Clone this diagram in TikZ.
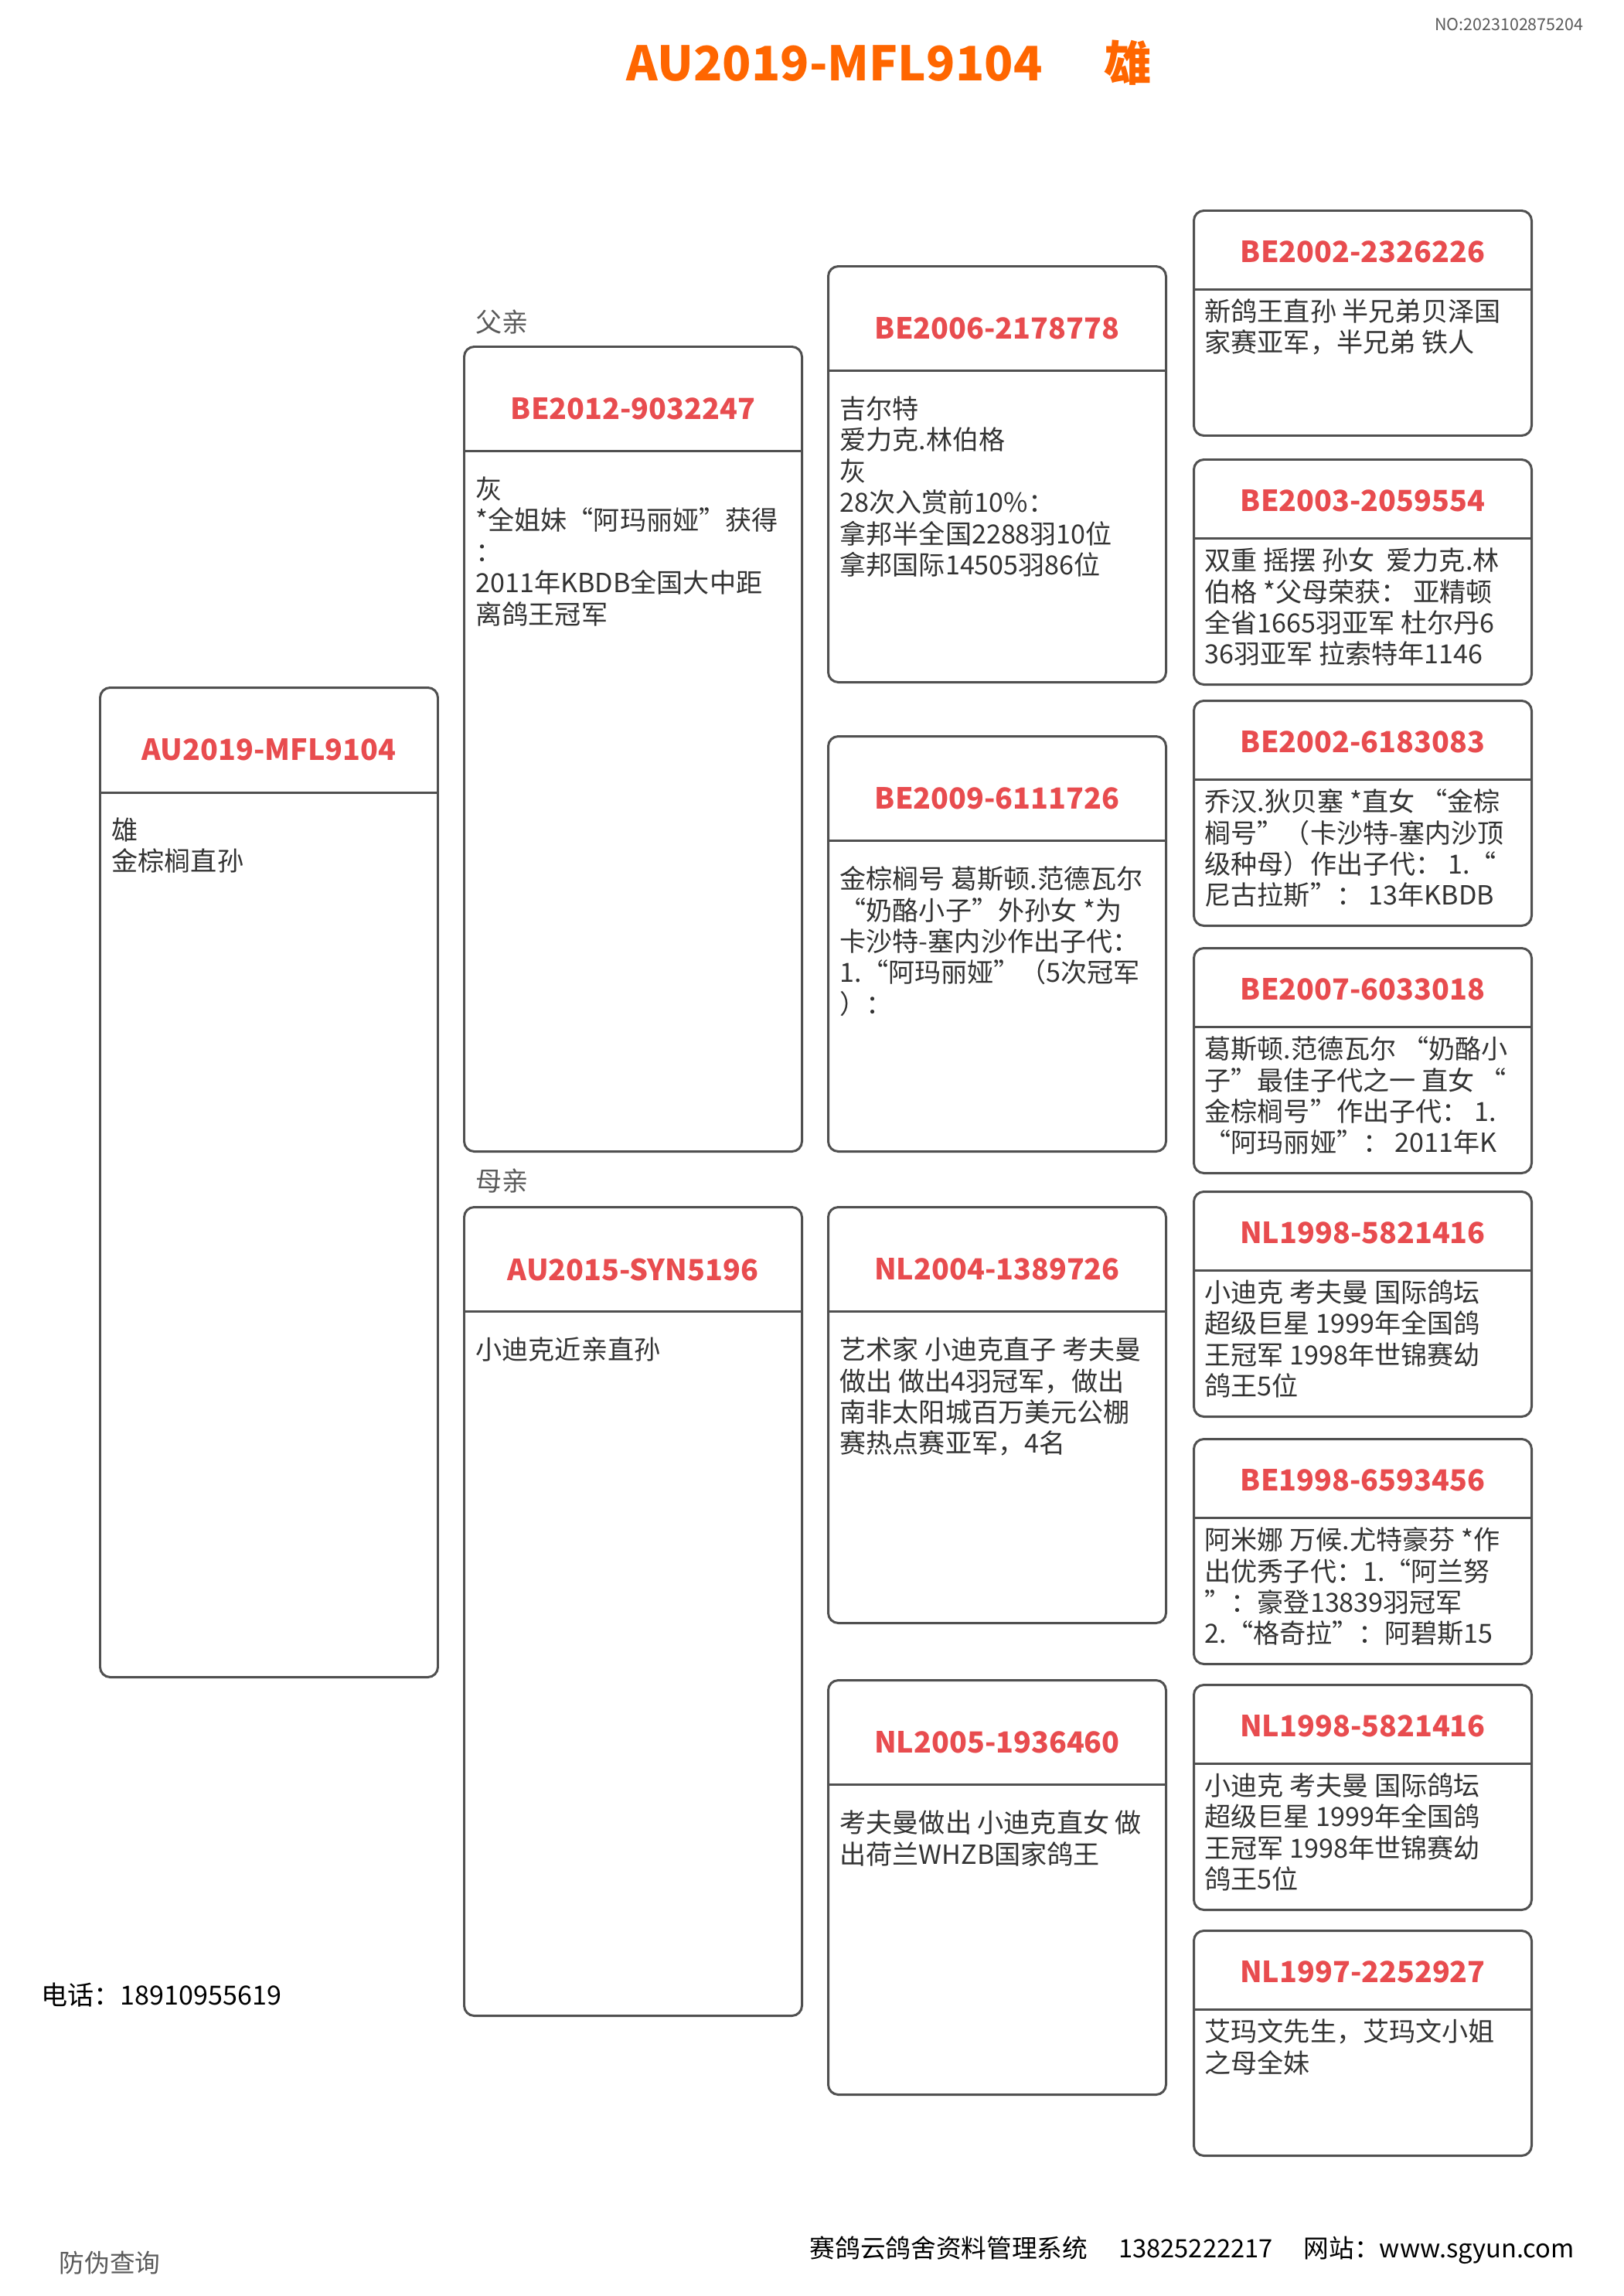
\documentclass[tikz,border=0pt]{standalone}
\usepackage{fontspec}
\setmainfont{Noto Sans CJK SC}
\definecolor{titleorange}{RGB}{255, 102, 0}
\definecolor{ringred}    {RGB}{232, 76, 79}
\definecolor{cardline}   {RGB}{80, 80, 80}
\definecolor{notegray}   {RGB}{51, 51, 51}
\definecolor{labelgray}  {RGB}{90, 90, 90}
\tikzset{
	card/.style={
		rectangle, rounded corners=0.13cm,
		anchor=north west, inner sep=0pt,
		minimum width=4.37cm,
		draw=cardline, line width=0.85pt
	},
	cardrule/.style={
		draw=cardline, line width=0.85pt
	},
	ringno/.style={
		font=\fontsize{10.7}{13}\selectfont\bfseries,
		text=ringred, inner sep=0pt
	},
	notes/.style={
		font=\fontsize{9.7}{11.5}\selectfont,
		text=notegray, align=left,
		anchor=north west, inner sep=0pt
	},
	relation/.style={
		font=\fontsize{9.7}{11.5}\selectfont,
		text=labelgray, anchor=west, inner sep=0pt
	},
	footnote/.style={
		font=\fontsize{9.3}{11}\selectfont,
		anchor=west, inner sep=0pt
	}
}

\begin{document}
\begin{tikzpicture}
	
	\path[use as bounding box, fill=white] (0,0) rectangle (21,-29.7);
	
	%% ═══════════════════════════════
	%%  HEADER
	%% ═══════════════════════════════
	\node[anchor=east, inner sep=0pt, text=labelgray,
	font=\fontsize{6.1}{7}\selectfont] (docno) at (20.49,-0.32) {NO:2023102875204};
	\node[anchor=west, inner sep=0pt, text=titleorange,
	font=\fontsize{17.5}{20}\selectfont\bfseries] (title) at (8.10,-0.81)
	{AU2019-MFL9104\hspace{0.8cm}雄};
	
	%% ═══════════════════════════════
	%%  COLUMN 0 — the bird itself
	%% ═══════════════════════════════
	\node[card, minimum height=12.80cm] (self) at (1.28,-8.88) {};
	\draw[cardrule] ([yshift=-1.37cm]self.north west) -- ([yshift=-1.37cm]self.north east);
	\node[ringno] (self-id) at ([yshift=-0.82cm]self.north) {AU2019-MFL9104};
	\node[notes] (self-txt) at ([xshift=0.16cm, yshift=-1.69cm]self.north west)
	{雄\\金棕榈直孙};
	
	%% ═══════════════════════════════
	%%  COLUMN 1 — sire and dam
	%% ═══════════════════════════════
	\node[relation] (sire-lbl) at (6.15,-4.17) {父亲};
	\node[card, minimum height=10.41cm] (sire) at (5.99,-4.47) {};
	\draw[cardrule] ([yshift=-1.36cm]sire.north west) -- ([yshift=-1.36cm]sire.north east);
	\node[ringno] (sire-id) at ([yshift=-0.82cm]sire.north) {BE2012-9032247};
	\node[notes] (sire-txt) at ([xshift=0.16cm, yshift=-1.69cm]sire.north west)
	{灰\\*全姐妹“阿玛丽娅”获得\\：\\2011年KBDB全国大中距\\离鸽王冠军};
	
	\node[relation] (dam-lbl) at (6.15,-15.28) {母亲};
	\node[card, minimum height=10.46cm] (dam) at (5.99,-15.60) {};
	\draw[cardrule] ([yshift=-1.36cm]dam.north west) -- ([yshift=-1.36cm]dam.north east);
	\node[ringno] (dam-id) at ([yshift=-0.82cm]dam.north) {AU2015-SYN5196};
	\node[notes] (dam-txt) at ([xshift=0.16cm, yshift=-1.69cm]dam.north west)
	{小迪克近亲直孙};
	
	%% ═══════════════════════════════
	%%  COLUMN 2 — grandparents
	%% ═══════════════════════════════
	\node[card, minimum height=5.38cm] (ss) at (10.70,-3.43) {};
	\draw[cardrule] ([yshift=-1.36cm]ss.north west) -- ([yshift=-1.36cm]ss.north east);
	\node[ringno] (ss-id) at ([yshift=-0.82cm]ss.north) {BE2006-2178778};
	\node[notes] (ss-txt) at ([xshift=0.16cm, yshift=-1.69cm]ss.north west)
	{吉尔特\\爱力克.林伯格\\灰\\28次入赏前10\%：\\拿邦半全国2288羽10位\\拿邦国际14505羽86位};
	
	\node[card, minimum height=5.37cm] (sd) at (10.70,-9.51) {};
	\draw[cardrule] ([yshift=-1.36cm]sd.north west) -- ([yshift=-1.36cm]sd.north east);
	\node[ringno] (sd-id) at ([yshift=-0.82cm]sd.north) {BE2009-6111726};
	\node[notes] (sd-txt) at ([xshift=0.16cm, yshift=-1.69cm]sd.north west)
	{金棕榈号 葛斯顿.范德瓦尔\\“奶酪小子”外孙女 *为\\卡沙特-塞内沙作出子代：\\1.“阿玛丽娅”（5次冠军\\）：};
	
	\node[card, minimum height=5.38cm] (ds) at (10.70,-15.60) {};
	\draw[cardrule] ([yshift=-1.36cm]ds.north west) -- ([yshift=-1.36cm]ds.north east);
	\node[ringno] (ds-id) at ([yshift=-0.82cm]ds.north) {NL2004-1389726};
	\node[notes] (ds-txt) at ([xshift=0.16cm, yshift=-1.69cm]ds.north west)
	{艺术家 小迪克直子 考夫曼\\做出 做出4羽冠军，做出\\南非太阳城百万美元公棚\\赛热点赛亚军，4名};
	
	\node[card, minimum height=5.36cm] (dd) at (10.70,-21.72) {};
	\draw[cardrule] ([yshift=-1.36cm]dd.north west) -- ([yshift=-1.36cm]dd.north east);
	\node[ringno] (dd-id) at ([yshift=-0.82cm]dd.north) {NL2005-1936460};
	\node[notes] (dd-txt) at ([xshift=0.16cm, yshift=-1.69cm]dd.north west)
	{考夫曼做出 小迪克直女 做\\出荷兰WHZB国家鸽王};
	
	%% ═══════════════════════════════
	%%  COLUMN 3 — great-grandparents
	%% ═══════════════════════════════
	\node[card, minimum height=2.91cm] (sss) at (15.43,-2.71) {};
	\draw[cardrule] ([yshift=-1.03cm]sss.north west) -- ([yshift=-1.03cm]sss.north east);
	\node[ringno] (sss-id) at ([yshift=-0.55cm]sss.north) {BE2002-2326226};
	\node[notes] (sss-txt) at ([xshift=0.15cm, yshift=-1.15cm]sss.north west)
	{新鸽王直孙 半兄弟贝泽国\\家赛亚军，半兄弟 铁人};
	
	\node[card, minimum height=2.91cm] (ssd) at (15.43,-5.93) {};
	\draw[cardrule] ([yshift=-1.03cm]ssd.north west) -- ([yshift=-1.03cm]ssd.north east);
	\node[ringno] (ssd-id) at ([yshift=-0.55cm]ssd.north) {BE2003-2059554};
	\node[notes] (ssd-txt) at ([xshift=0.15cm, yshift=-1.15cm]ssd.north west)
	{双重 摇摆 孙女\ \ 爱力克.林\\伯格 *父母荣获： 亚精顿\\全省1665羽亚军 杜尔丹6\\36羽亚军 拉索特年1146};
	
	\node[card, minimum height=2.91cm] (sds) at (15.43,-9.05) {};
	\draw[cardrule] ([yshift=-1.03cm]sds.north west) -- ([yshift=-1.03cm]sds.north east);
	\node[ringno] (sds-id) at ([yshift=-0.55cm]sds.north) {BE2002-6183083};
	\node[notes] (sds-txt) at ([xshift=0.15cm, yshift=-1.15cm]sds.north west)
	{乔汉.狄贝塞 *直女 “金棕\\榈号”（卡沙特-塞内沙顶\\级种母）作出子代： 1.“\\尼古拉斯”： 13年KBDB};
	
	\node[card, minimum height=2.91cm] (sdd) at (15.43,-12.25) {};
	\draw[cardrule] ([yshift=-1.03cm]sdd.north west) -- ([yshift=-1.03cm]sdd.north east);
	\node[ringno] (sdd-id) at ([yshift=-0.55cm]sdd.north) {BE2007-6033018};
	\node[notes] (sdd-txt) at ([xshift=0.15cm, yshift=-1.15cm]sdd.north west)
	{葛斯顿.范德瓦尔 “奶酪小\\子”最佳子代之一 直女 “\\金棕榈号”作出子代： 1.\\“阿玛丽娅”： 2011年K};
	
	\node[card, minimum height=2.91cm] (dss) at (15.43,-15.40) {};
	\draw[cardrule] ([yshift=-1.03cm]dss.north west) -- ([yshift=-1.03cm]dss.north east);
	\node[ringno] (dss-id) at ([yshift=-0.55cm]dss.north) {NL1998-5821416};
	\node[notes] (dss-txt) at ([xshift=0.15cm, yshift=-1.15cm]dss.north west)
	{小迪克 考夫曼 国际鸽坛\\超级巨星 1999年全国鸽\\王冠军 1998年世锦赛幼\\鸽王5位};
	
	\node[card, minimum height=2.91cm] (dsd) at (15.43,-18.60) {};
	\draw[cardrule] ([yshift=-1.03cm]dsd.north west) -- ([yshift=-1.03cm]dsd.north east);
	\node[ringno] (dsd-id) at ([yshift=-0.55cm]dsd.north) {BE1998-6593456};
	\node[notes] (dsd-txt) at ([xshift=0.15cm, yshift=-1.15cm]dsd.north west)
	{阿米娜 万候.尤特豪芬 *作\\出优秀子代：1.“阿兰努\\”：豪登13839羽冠军\\2.“格奇拉”：阿碧斯15};
	
	\node[card, minimum height=2.91cm] (dds) at (15.43,-21.78) {};
	\draw[cardrule] ([yshift=-1.03cm]dds.north west) -- ([yshift=-1.03cm]dds.north east);
	\node[ringno] (dds-id) at ([yshift=-0.55cm]dds.north) {NL1998-5821416};
	\node[notes] (dds-txt) at ([xshift=0.15cm, yshift=-1.15cm]dds.north west)
	{小迪克 考夫曼 国际鸽坛\\超级巨星 1999年全国鸽\\王冠军 1998年世锦赛幼\\鸽王5位};
	
	\node[card, minimum height=2.91cm] (ddd) at (15.43,-24.96) {};
	\draw[cardrule] ([yshift=-1.03cm]ddd.north west) -- ([yshift=-1.03cm]ddd.north east);
	\node[ringno] (ddd-id) at ([yshift=-0.55cm]ddd.north) {NL1997-2252927};
	\node[notes] (ddd-txt) at ([xshift=0.15cm, yshift=-1.15cm]ddd.north west)
	{艾玛文先生，艾玛文小姐\\之母全妹};
	
	%% ═══════════════════════════════
	%%  FOOTER
	%% ═══════════════════════════════
	\node[footnote, font=\fontsize{9.7}{11}\selectfont] (phone) at (0.53,-25.81) {电话：18910955619};
	\node[footnote, text=labelgray] (verify) at (0.76,-29.27) {防伪查询};
	\node[footnote] (system) at (10.47,-29.11)
	{赛鸽云鸽舍资料管理系统\hspace{0.4cm}13825222217\hspace{0.4cm}网站：www.sgyun.com};
	
\end{tikzpicture}
\end{document}
